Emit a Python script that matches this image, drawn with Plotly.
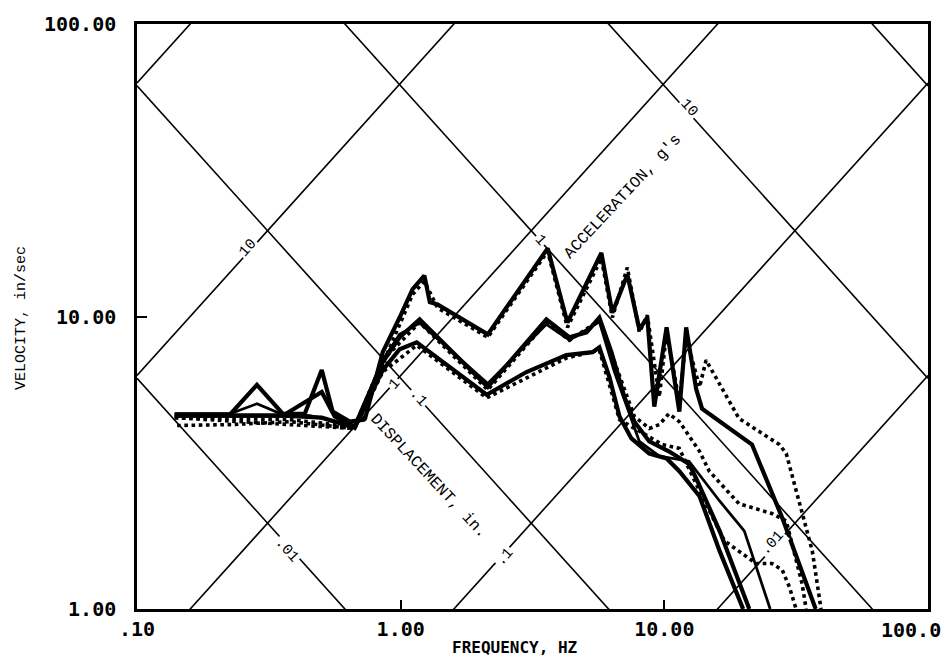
import math
import plotly.graph_objects as go

# ---------------- data ----------------
# frequency (Hz) / velocity (in/sec)
f1 = [0.139, 0.225, 0.285, 0.357, 0.433, 0.502, 0.552, 0.641, 0.731, 0.855, 0.991, 1.11, 1.23, 1.29, 1.38,
      2.14, 3.61, 4.29, 5.77, 6.35, 7.24, 8.04, 8.62, 9.16, 10.2, 11.4, 12.1, 13.2, 13.9, 21.5, 28.0, 36.4, 37.5]
v1 = [4.62, 4.62, 5.84, 4.65, 4.65, 6.56, 4.73, 4.37, 4.44, 7.55, 9.92, 12.4, 13.8, 11.2, 11.0,
      8.69, 17.1, 9.54, 16.5, 10.3, 13.9, 9.04, 9.92, 4.92, 9.18, 4.73, 9.18, 5.66, 4.84, 3.65, 2.05, 1.07, 1.0]

f2 = [0.139, 0.225, 0.357, 0.502, 0.562, 0.669, 0.855, 0.991, 1.18, 2.14, 3.57, 4.37, 5.07, 5.67, 6.30,
      7.05, 7.70, 8.77, 10.4, 12.4, 13.2, 16.2, 21.0]
v2 = [4.58, 4.58, 4.58, 5.52, 4.55, 4.20, 6.98, 8.49, 9.77, 5.74, 9.77, 8.49, 8.83, 9.92, 7.55,
      5.31, 4.37, 3.74, 3.46, 3.13, 2.80, 1.85, 1.0]

f3 = [0.139, 0.357, 0.502, 0.669, 0.855, 0.991, 1.15, 2.12, 3.00, 4.25, 5.34, 5.67, 6.19, 6.76, 7.50,
      8.77, 10.2, 11.4, 13.6, 16.2, 19.9]
v3 = [4.58, 4.58, 4.51, 4.17, 6.56, 7.73, 8.16, 5.40, 6.46, 7.38, 7.55, 7.85, 6.21, 4.55, 3.83,
      3.40, 3.27, 2.96, 2.43, 1.58, 1.0]

f4 = [0.139, 0.225, 0.285, 0.357, 0.452, 0.669, 0.855, 0.991, 1.18, 2.14, 3.57, 4.37, 5.67, 6.47, 8.04,
      9.57, 12.4, 16.2, 20.1, 25.2]
v4 = [4.65, 4.65, 5.03, 4.62, 4.58, 4.24, 7.10, 8.70, 9.50, 5.90, 9.40, 8.30, 9.60, 6.46, 3.74,
      3.33, 3.20, 2.34, 1.85, 1.0]

f5 = [0.142, 0.225, 0.380, 0.669, 0.855, 1.11, 1.23, 1.38, 2.14, 3.61, 4.29, 5.77, 6.35, 7.24, 8.04,
      8.62, 9.57, 10.2, 11.4, 12.1, 13.6, 14.4, 19.2, 27.3, 29.0, 32.5, 36.4, 39.3]
v5 = [4.24, 4.27, 4.37, 4.14, 6.88, 11.9, 13.2, 10.7, 8.49, 16.7, 9.18, 15.8, 9.92, 14.7, 8.83,
      10.1, 5.31, 8.83, 5.11, 8.49, 5.74, 7.09, 4.48, 3.65, 3.40, 2.34, 1.58, 1.0]

f6 = [0.139, 0.380, 0.669, 0.855, 1.18, 2.14, 3.57, 4.37, 5.67, 6.47, 7.70, 8.77, 9.57, 10.4, 11.4,
      13.6, 14.8, 19.2, 25.6, 29.0, 30.5, 33.3, 34.5]
v6 = [4.51, 4.44, 4.20, 7.09, 9.54, 5.61, 9.54, 8.29, 9.69, 6.98, 4.55, 4.14, 4.27, 4.65, 4.37,
      3.46, 2.96, 2.29, 2.12, 2.00, 1.67, 1.22, 1.0]

f7 = [0.139, 0.669, 0.855, 1.15, 2.12, 4.25, 5.67, 6.76, 9.83, 11.4, 13.6, 16.9, 22.3, 25.6, 28.0,
      29.8, 31.6]
v7 = [4.51, 4.14, 6.46, 7.97, 5.27, 7.21, 7.67, 4.44, 3.65, 3.54, 2.53, 1.71, 1.43, 1.43, 1.36,
      1.19, 1.0]

x_tickvals = [0.1, 1, 10]
x_ticktext = [".10", "1.00", "10.00"]
x_last_label = "100.0"
y_tickvals = [1, 10, 100]
y_ticktext = ["1.00", "10.00", "100.00"]

acc_levels = [0.01, 0.1, 1, 10, 100]      # g's
disp_levels = [0.01, 0.1, 1, 10, 100]     # inches
f_span = [0.1, 100]
G = 386.09

# label positions (log10 f, log10 V) for the nomograph labels
acc_labels = [(".01", -0.432, 0.200), (".1", 0.064, 0.722), ("1", 0.530, 1.261), ("10", 1.095, 1.712)]
disp_labels = [("10", -0.580, 1.234), ("1", -0.023, 0.769), (".1", 0.394, 0.176), (".01", 1.409, 0.224)]

# ---------------- figure ----------------
fig = go.Figure()

for a in acc_levels:
    fig.add_trace(go.Scatter(x=f_span, y=[a * G / (2 * math.pi * f) for f in f_span], mode="lines",
                             line=dict(color="black", width=1.6), hoverinfo="skip", showlegend=False))
for d in disp_levels:
    fig.add_trace(go.Scatter(x=f_span, y=[2 * math.pi * f * d for f in f_span], mode="lines",
                             line=dict(color="black", width=1.6), hoverinfo="skip", showlegend=False))

curves = [
    (f1, v1, "solid", 4.2),
    (f2, v2, "solid", 4.2),
    (f3, v3, "solid", 4.2),
    (f4, v4, "solid", 2.8),
    (f5, v5, "dot", 3.6),
    (f6, v6, "dot", 3.6),
    (f7, v7, "dot", 3.6),
]
for fx, vy, dash, w in curves:
    fig.add_trace(go.Scatter(x=fx, y=vy, mode="lines",
                             line=dict(color="black", width=w, dash=dash),
                             showlegend=False))

lab_font = dict(family="Liberation Mono, Courier New, monospace", size=15, color="black")
annotations = []
for txt, lx, ly in acc_labels:
    annotations.append(dict(x=lx, y=ly, xref="x", yref="y", text=txt, showarrow=False,
                            textangle=48, font=lab_font, bgcolor="white", borderpad=1))
for txt, lx, ly in disp_labels:
    annotations.append(dict(x=lx, y=ly, xref="x", yref="y", text=txt, showarrow=False,
                            textangle=-48, font=lab_font, bgcolor="white", borderpad=1))
annotations.append(dict(x=0.841, y=1.410, xref="x", yref="y", text="ACCELERATION, g's", showarrow=False,
                        textangle=-47, font=dict(family="Liberation Mono, monospace", size=16, color="black")))
annotations.append(dict(x=0.105, y=0.455, xref="x", yref="y", text="DISPLACEMENT, in.", showarrow=False,
                        textangle=47, font=dict(family="Liberation Mono, monospace", size=16, color="black"),
                        bgcolor="white"))

tick_font = dict(family="DejaVu Sans Mono, monospace", size=20, color="black")

# last x tick label, shifted left as in the original
annotations.append(dict(x=1, y=0, xref="paper", yref="paper", text="<b>%s</b>" % x_last_label,
                        showarrow=False, xanchor="right", yanchor="top", xshift=15, yshift=-7,
                        font=tick_font))
# axis titles
annotations.append(dict(x=(515 - 137) / 791, y=-39 / 591, xref="paper", yref="paper",
                        text="<b>FREQUENCY, HZ</b>", showarrow=False, xanchor="center", yanchor="middle",
                        font=dict(family="DejaVu Sans Mono, monospace", size=16, color="black")))
annotations.append(dict(x=-115 / 791, y=(609 - 315) / 591, xref="paper", yref="paper",
                        text="VELOCITY, in/sec", showarrow=False, xanchor="center", yanchor="middle",
                        textangle=-90,
                        font=dict(family="Liberation Mono, Courier New, monospace", size=15, color="black")))

fig.update_layout(
    width=946, height=666,
    margin=dict(l=137, r=18, t=18, b=57),
    paper_bgcolor="white", plot_bgcolor="white",
    annotations=annotations,
    xaxis=dict(type="log", range=[-1, 2], tickvals=x_tickvals,
               ticktext=["<b>%s</b>" % t for t in x_ticktext],
               showgrid=False, zeroline=False, showline=True, mirror=True,
               linecolor="black", linewidth=2.5, ticks="inside", ticklen=9, tickwidth=2,
               tickcolor="black", tickfont=tick_font),
    yaxis=dict(type="log", range=[0, 2], tickvals=y_tickvals,
               ticktext=["<b>%s</b>" % t for t in y_ticktext],
               showgrid=False, zeroline=False, showline=True, mirror=True,
               linecolor="black", linewidth=2.5, ticks="inside", ticklen=10, tickwidth=2,
               tickcolor="black", tickfont=tick_font, ticklabelstandoff=14),
)

fig.write_html("out.html")
